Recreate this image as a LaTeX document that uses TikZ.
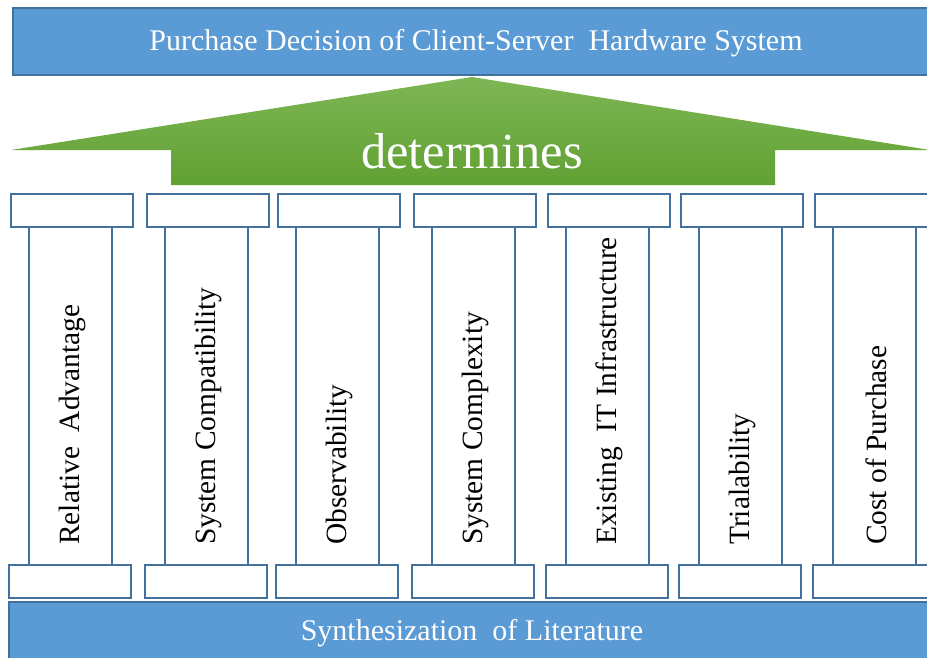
\documentclass[tikz,border=0pt]{standalone}
\usepackage{fontspec}
\setmainfont{Liberation Serif}
\definecolor{bannerblue}{HTML}{5B9BD5}
\definecolor{edgeblue}{HTML}{41719C}
\definecolor{greentop}{HTML}{7EB655}
\definecolor{greenbot}{HTML}{61A133}
\begin{document}
\begin{tikzpicture}[x=1pt,y=-1pt,
  banner/.style={draw=edgeblue,line width=1.2pt,fill=bannerblue,inner sep=0pt,minimum height=67pt},
  bannertext/.style={text=white,font=\fontsize{30}{32}\selectfont,inner sep=0pt},
  capbox/.style={draw=edgeblue,line width=1.3pt,fill=white,inner sep=0pt,minimum width=122pt,minimum height=33pt},
  column/.style={draw=edgeblue,line width=1.3pt,fill=white,inner sep=0pt,minimum width=83pt,minimum height=338pt},
  pillartext/.style={rotate=90,anchor=west,inner sep=0pt,font=\fontsize{29.4}{31}\selectfont}
]
\useasboundingbox (0,0) rectangle (927,657);
% top banner
\node[banner,minimum width=917pt] (top) at (471.5,41.5) {};
\node[bannertext] (toptext) at (476,43) {Purchase Decision of Client-Server\ \ Hardware System};
% arrow
\shade[top color=greentop,bottom color=greenbot]
  (11,150) -- (472,77) -- (930,150) -- (775,150) -- (775,185) -- (171,185) -- (171,150) -- cycle;
\node[text=white,inner sep=0pt,font=\fontsize{50.5}{52}\selectfont] (det) at (472,151) {determines};
% bottom banner
\node[banner,minimum width=921pt,minimum height=58pt] (bottom) at (469.5,631) {};
\node[bannertext] (bottomtext) at (472,633) {Synthesization\ \ of Literature};
% pillars
\foreach \i/\tx/\cx/\bx/\lab in {1/11/29/9/{Relative\ \ Advantage},
  2/147/165/145/{System Compatibility},
  3/278/296/276/{Observability},
  4/414/432/412/{System Complexity},
  5/548/566/546/{Existing\ \ IT Infrastructure},
  6/681/699/679/{Trialability},
  7/815/833/813/{Cost of Purchase}}{
  \node[column] (col\i) at ({\cx+41.5},396) {};
  \node[capbox] (cap\i) at ({\tx+61},210.5) {};
  \node[capbox] (base\i) at ({\bx+61},581.5) {};
  \node[pillartext] (lab\i) at ({\cx+43},545) {\lab};
}
\end{tikzpicture}
\end{document}
